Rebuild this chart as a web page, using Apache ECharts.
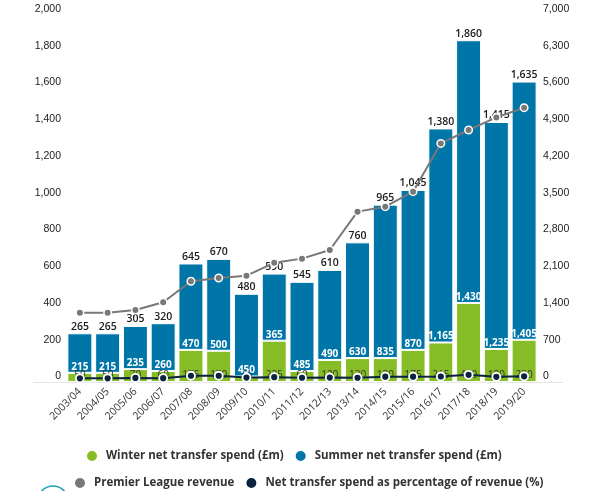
<!DOCTYPE html>
<html>
<head>
<meta charset="utf-8">
<script src="https://cdn.jsdelivr.net/npm/echarts@6/dist/echarts.min.js"></script>
<style>
html,body{margin:0;padding:0;background:#fff;}
#c{width:591px;height:491px;}
</style>
</head>
<body>
<div id="c"></div>
<script>
const categories = ['2003/04','2004/05','2005/06','2006/07','2007/08','2008/09','2009/10','2010/11','2011/12','2012/13','2013/14','2014/15','2015/16','2016/17','2017/18','2018/19','2019/20'];
const winterSpend = [50,50,70,60,175,170,30,225,60,120,130,130,175,215,430,180,230];
const summerSpend = [215,215,235,260,470,500,450,365,485,490,630,835,870,1165,1430,1235,1405];
const plRevenue = [1320,1320,1370,1520,1920,1980,2025,2270,2350,2515,3245,3340,3625,4545,4800,5040,5225];
const spendPctRevenue = [20,20,22,21,34,34,24,26,23,24,23,29,29,30,39,28,31];
const leftTicks = {min:0, max:2000, interval:200};
const rightTicks = {min:0, max:7000, interval:700};

const totals = winterSpend.map((w,i)=>w+summerSpend[i]);
const fmt = v => Number(v).toLocaleString('en-US');

const chart = echarts.init(document.getElementById('c'), null, {renderer:'canvas'});
const FONT = "'Open Sans', sans-serif";
chart.setOption({
  animation:false,
  backgroundColor:'#fff',
  grid:{left:66, right:53, top:14.5, bottom:109},
  legend:[
    {data:['Winter net transfer spend (£m)','Summer net transfer spend (£m)'],
     left:80, top:444, itemWidth:12, itemHeight:12, itemGap:10, icon:'circle',
     textStyle:{fontFamily:FONT, fontSize:11.5, fontWeight:'bold', color:'#333', padding:[0,0,0,3]}},
    {data:['Premier League revenue','Net transfer spend as percentage of revenue (%)'],
     left:68, top:471, itemWidth:12, itemHeight:12, itemGap:10, icon:'circle',
     textStyle:{fontFamily:FONT, fontSize:11.5, fontWeight:'bold', color:'#333', padding:[0,0,0,3]}}
  ],
  xAxis:{type:'category', data:categories,
    axisLine:{show:false}, axisTick:{show:false},
    axisLabel:{rotate:45, margin:8, fontFamily:FONT, fontSize:10.5, color:'#333', interval:0}},
  yAxis:[
    {type:'value', min:leftTicks.min, max:leftTicks.max, interval:leftTicks.interval,
     splitLine:{show:false}, axisLine:{show:false}, axisTick:{show:false},
     axisLabel:{margin:5, fontFamily:"'Liberation Sans', Arial, sans-serif", fontSize:10.5, color:'#222', verticalAlign:'bottom', formatter:fmt}},
    {type:'value', min:rightTicks.min, max:rightTicks.max, interval:rightTicks.interval, position:'right',
     splitLine:{show:false}, axisLine:{show:false}, axisTick:{show:false},
     axisLabel:{margin:5, fontFamily:"'Liberation Sans', Arial, sans-serif", fontSize:10.5, color:'#222', verticalAlign:'bottom', formatter:fmt}}
  ],
  graphic:[
    {type:'line', shape:{x1:33, y1:382.5, x2:563, y2:382.5}, style:{stroke:'#e6e6e6', lineWidth:1}, z:0},
    {type:'circle', shape:{cx:53, cy:501, r:15}, style:{fill:'none', stroke:'#1aa3b3', lineWidth:1.5}}
  ],
  series:[
    {name:'Winter net transfer spend (£m)', type:'bar', stack:'spend', data:winterSpend,
     barCategoryGap:'10%', itemStyle:{color:'#86bc25', borderColor:'#fff', borderWidth:1},
     label:{show:true, position:'insideBottom', distance:2, fontFamily:FONT, fontSize:10, color:'#333', formatter:p=>fmt(p.value)},
     emphasis:{disabled:true}},
    {name:'Summer net transfer spend (£m)', type:'bar', stack:'spend', data:summerSpend,
     itemStyle:{color:'#0076a8', borderColor:'#fff', borderWidth:1},
     label:{show:true, position:'insideBottom', distance:1, fontFamily:FONT, fontSize:10, fontWeight:'bold', color:'#fff', formatter:p=>fmt(p.value)},
     emphasis:{disabled:true}},
    {name:'total', type:'bar', stack:'spend', data:totals.map(()=>0),
     itemStyle:{color:'rgba(0,0,0,0)', borderWidth:0},
     label:{show:true, position:'top', distance:1, fontFamily:FONT, fontSize:10.5, fontWeight:600, color:'#1a1a1a', formatter:p=>fmt(totals[p.dataIndex])},
     emphasis:{disabled:true}},
    {name:'Premier League revenue', type:'line', yAxisIndex:1, data:plRevenue, z:5,
     symbol:'circle', symbolSize:7.5, color:'#787878',
     lineStyle:{color:'#787878', width:2}, itemStyle:{color:'#787878', borderColor:'#fff', borderWidth:1.5},
     emphasis:{disabled:true}},
    {name:'Net transfer spend as percentage of revenue (%)', type:'line', yAxisIndex:0, data:spendPctRevenue, z:6,
     symbol:'circle', symbolSize:8, color:'#0c2340',
     lineStyle:{color:'#0c2340', width:2}, itemStyle:{color:'#0c2340', borderColor:'#fff', borderWidth:1.8},
     emphasis:{disabled:true}}
  ]
});
</script>
</body>
</html>
